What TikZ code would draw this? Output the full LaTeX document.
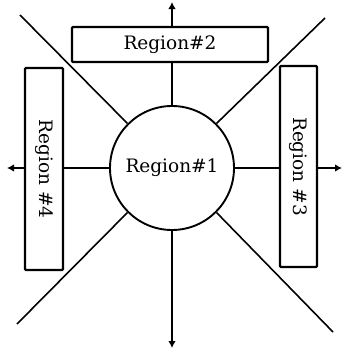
\documentclass[tikz,border=0pt]{standalone}
\usepackage{fontspec}
\setmainfont{DejaVu Serif}
\usetikzlibrary{arrows.meta}
\begin{document}
\begin{tikzpicture}[x=1pt,y=-1pt,
  thin line/.style={line width=1.3pt},
  diag/.style={line width=1.6pt},
  tip/.style={thin line,-{Latex[length=7pt,width=7.5pt]}},
  regionbox/.style={draw,line width=2.2pt,fill=white,rounded corners=1pt,inner sep=0pt,
    font=\fontsize{18.5}{20}\selectfont},
  regioncircle/.style={draw,circle,line width=1.9pt,fill=white,minimum size=124pt,inner sep=0pt,
    font=\fontsize{18.5}{20}\selectfont}
]
\useasboundingbox (0,0) rectangle (343,351);
\node[regioncircle] (c) at (172,168) {Region\#1};
\coordinate (tipT) at (172,2);
\coordinate (tipB) at (172,348);
\coordinate (tipL) at (7,167);
\coordinate (tipR) at (342,167);
\coordinate (dTL) at (20,15);
\coordinate (dTR) at (325,18);
\coordinate (dBL) at (17,324);
\coordinate (dBR) at (333,332);
\draw[tip] (c.north) -- (tipT);
\draw[tip] (c.south) -- (tipB);
\draw[tip] (c.west) -- (c.west -| tipL);
\draw[tip] (c.east) -- (c.east -| tipR);
\draw[diag] (c.north west) -- (dTL);
\draw[diag] (c.north east) -- (dTR);
\draw[diag] (c.south west) -- (dBL);
\draw[diag] (c.south east) -- (dBR);
\node[regionbox,minimum width=196pt,minimum height=35pt] (r2) at (170,44.5) {Region\#2};
\node[regionbox,rotate=-90,minimum width=202pt,minimum height=38pt] (r4) at (44,169) {Region \#4};
\node[regionbox,rotate=-90,minimum width=201pt,minimum height=37pt] (r3) at (298.5,166.5) {Region \#3};
\end{tikzpicture}
\end{document}
